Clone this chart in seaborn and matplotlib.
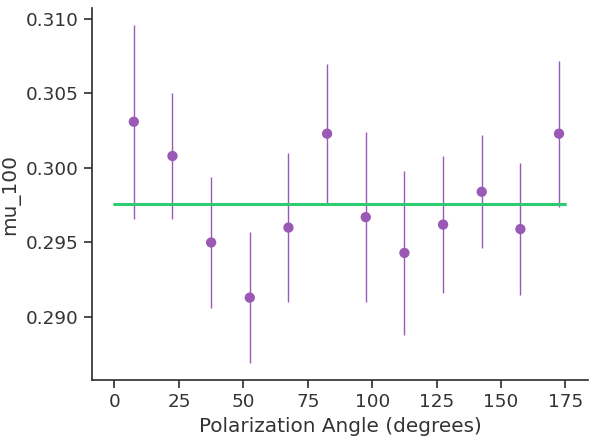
import numpy as np
import pandas as pd
import matplotlib
matplotlib.use("Agg")
import matplotlib.pyplot as plt
import seaborn as sns

# Polarization angle bin centres and fitted mu_100 values
angles = [7.5, 22.5, 37.5, 52.5, 67.5, 82.5, 97.5, 112.5, 127.5, 142.5, 157.5, 172.5]
mu_100 = [0.3031, 0.3008, 0.2950, 0.2913, 0.2960, 0.3023,
          0.2967, 0.2943, 0.2962, 0.2984, 0.2959, 0.3023]
mu_err = [0.0065, 0.0042, 0.0044, 0.0044, 0.0050, 0.0047,
          0.0057, 0.0055, 0.0046, 0.0038, 0.0044, 0.0049]

# Constant fit line
fit_x = [0, 175]
fit_y = [0.29757, 0.29757]

purple = "#9b59b6"
green = "#2ecc71"
text_col = "#333333"

sns.set_theme(style="ticks", font_scale=1.2,
              rc={"text.color": text_col, "axes.labelcolor": text_col,
                  "xtick.color": text_col, "ytick.color": text_col,
                  "axes.edgecolor": text_col})

df = pd.DataFrame({"angle": angles, "mu": mu_100, "err": mu_err})
fit_df = pd.DataFrame({"angle": fit_x, "mu": fit_y})

fig, ax = plt.subplots(figsize=(5.97, 4.41), dpi=100)

ax.errorbar(df["angle"], df["mu"], yerr=df["err"], fmt="none",
            ecolor=purple, elinewidth=1, capsize=0)
sns.scatterplot(data=df, x="angle", y="mu", color=purple, s=55,
                edgecolor="none", ax=ax, zorder=3)
sns.lineplot(data=fit_df, x="angle", y="mu", color=green, linewidth=2.2, ax=ax)

ax.set_xlabel("Polarization Angle (degrees)")
ax.set_ylabel("mu_100")
sns.despine(ax=ax)

fig.subplots_adjust(left=0.154, right=0.985, bottom=0.138, top=0.982)
plt.savefig("out.png", dpi=100)
